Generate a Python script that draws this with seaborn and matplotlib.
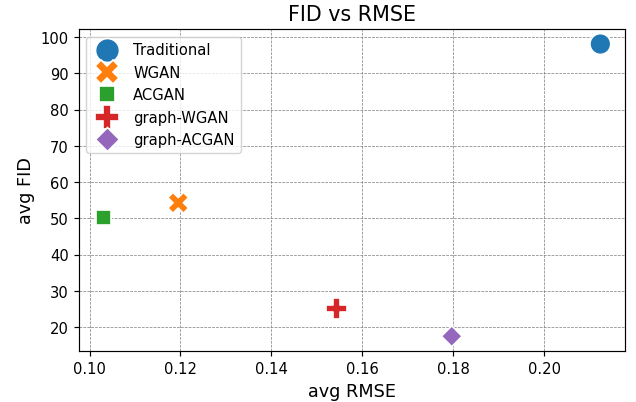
import pandas as pd
import matplotlib
matplotlib.use("Agg")
import matplotlib.pyplot as plt
import seaborn as sns

# Données
modeles = ["Traditional", "WGAN", "ACGAN", "graph-WGAN", "graph-ACGAN"]
avg_rmse = [0.2124, 0.1195, 0.1031, 0.1544, 0.1797]
avg_fid = [98.1, 54.3, 50.3, 25.2, 17.5]

df = pd.DataFrame({"Modele": modeles, "avg RMSE": avg_rmse, "avg FID": avg_fid})

fig, ax = plt.subplots(figsize=(6.0, 3.8), dpi=106)
sns.scatterplot(data=df, x="avg RMSE", y="avg FID", hue="Modele", style="Modele",
                s=200, ax=ax, zorder=3)
ax.grid(True, linestyle="--", color="gray", linewidth=0.5)
ax.set_axisbelow(True)
ax.set_title("FID vs RMSE", fontsize=14)
ax.set_xlabel("avg RMSE", fontsize=12)
ax.set_ylabel("avg FID", fontsize=12)
ax.legend(loc="upper left", markerscale=1.15)
fig.subplots_adjust(left=0.124, right=0.983, top=0.925, bottom=0.127)
plt.savefig("out.png")
